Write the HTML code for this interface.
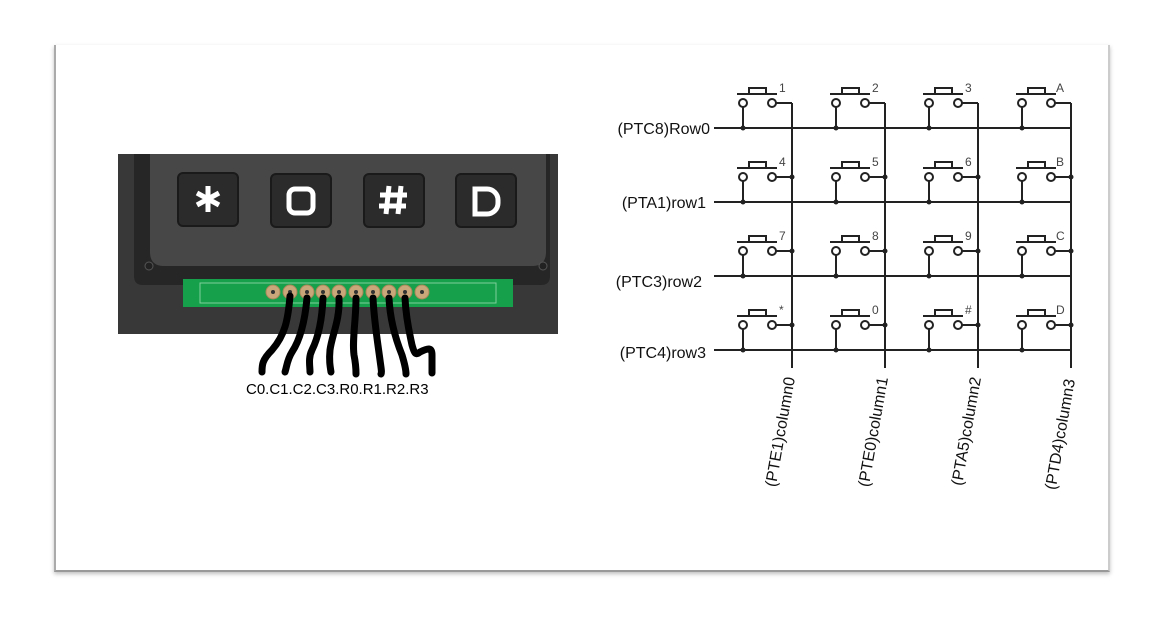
<!DOCTYPE html>
<html><head><meta charset="utf-8"><style>
html,body{margin:0;padding:0;background:#fff;}
body{width:1158px;height:620px;overflow:hidden;position:relative;font-family:"Liberation Sans",sans-serif;}
.card{position:absolute;left:54px;top:45px;width:1052px;height:525px;background:#fff;border-left:2px solid #aaa;border-bottom:2px solid #999;border-right:2px solid #ccc;box-shadow:0 2px 4px rgba(0,0,0,0.25);}
svg{position:absolute;left:0;top:0;}
</style></head><body>
<div class="card"></div>
<svg width="1158" height="620" viewBox="0 0 1158 620" xmlns="http://www.w3.org/2000/svg">
<rect x="118" y="154" width="440" height="180" fill="#383838"/>
<path d="M134 154 H550 V276 Q550 285 541 285 H143 Q134 285 134 276 Z" fill="#262626"/>
<path d="M150 154 H546 V252 Q546 266 532 266 H164 Q150 266 150 252 Z" fill="#474747"/>
<circle cx="149" cy="266" r="4" fill="#222" stroke="#555"/>
<circle cx="543" cy="266" r="4" fill="#222" stroke="#555"/>
<g fill="#2b2b2b" stroke="#1a1a1a" stroke-width="2">
<rect x="178" y="173" width="60" height="53" rx="5"/>
<rect x="271" y="174" width="60" height="53" rx="5"/>
<rect x="364" y="174" width="60" height="53" rx="5"/>
<rect x="456" y="174" width="60" height="53" rx="5"/>
</g>
<g fill="none" stroke="#fff" stroke-width="5" stroke-linecap="butt">
<path d="M208 186 V212 M197 193 L219 205 M219 193 L197 205"/>
<rect x="289" y="189" width="24" height="24" rx="6"/>
<path d="M389 186 L386 214 M401 186 L398 214 M380 195 H407 M379 206 H406"/>
<path d="M475 189 h12 a11 11 0 0 1 11 11 v3 a11 11 0 0 1 -11 11 h-12 z"/>
</g>
<rect x="183" y="279" width="330" height="28" fill="#16a04c"/>
<path d="M200 283 H496 V303 H200 Z" fill="none" stroke="#7fd19a" stroke-width="1"/>
<g fill="#c9a77a" stroke="#a88858" stroke-width="1">
<circle cx="273" cy="292" r="7"/><circle cx="290" cy="292" r="7"/><circle cx="307" cy="292" r="7"/><circle cx="323" cy="292" r="7"/><circle cx="339" cy="292" r="7"/><circle cx="356" cy="292" r="7"/><circle cx="373" cy="292" r="7"/><circle cx="389" cy="292" r="7"/><circle cx="405" cy="292" r="7"/><circle cx="422" cy="292" r="7"/>
</g>
<g fill="#333"><circle cx="273" cy="292" r="2"/><circle cx="290" cy="292" r="2"/><circle cx="307" cy="292" r="2"/><circle cx="323" cy="292" r="2"/><circle cx="339" cy="292" r="2"/><circle cx="356" cy="292" r="2"/><circle cx="373" cy="292" r="2"/><circle cx="389" cy="292" r="2"/><circle cx="405" cy="292" r="2"/><circle cx="422" cy="292" r="2"/></g>
<g fill="none" stroke="#000" stroke-width="7" stroke-linecap="round" stroke-linejoin="round">
<path d="M290 296 C288 320 285 335 272 350 C262 360 262 365 262 372"/>
<path d="M307 298 C305 320 300 340 292 352 C287 360 287 366 285 372"/>
<path d="M323 298 C322 320 318 338 312 350 C308 358 310 366 310 372"/>
<path d="M339 298 C340 320 332 335 330 350 C329 360 330 366 331 372"/>
<path d="M356 298 C356 320 352 340 354 355 C356 365 356 370 356 374"/>
<path d="M373 298 C374 320 378 345 380 360 C381 368 382 372 381 374"/>
<path d="M389 298 C390 320 396 340 402 355 C405 365 406 370 406 374"/>
<path d="M405 298 C406 320 410 335 412 345 C414 352 415 356 420 352 C428 348 432 347 432 355 L432 373"/>
</g>
<text x="246" y="394" font-size="15" fill="#000" font-family="Liberation Sans">C0.C1.C2.C3.R0.R1.R2.R3</text>
<g stroke="#222" stroke-width="2" fill="none">
<line x1="714" y1="128" x2="1071" y2="128"/>
<line x1="714" y1="202" x2="1071" y2="202"/>
<line x1="714" y1="276" x2="1071" y2="276"/>
<line x1="714" y1="350" x2="1071" y2="350"/>
<line x1="792" y1="103" x2="792" y2="368"/>
<line x1="885" y1="103" x2="885" y2="368"/>
<line x1="978" y1="103" x2="978" y2="368"/>
<line x1="1071" y1="103" x2="1071" y2="368"/>
</g>
<defs>
<g id="sw">
<line x1="-55" y1="-34" x2="-15" y2="-34" stroke="#222" stroke-width="2"/>
<rect x="-43" y="-40" width="17" height="6" fill="none" stroke="#222" stroke-width="2"/>
<circle cx="-49" cy="-25" r="4" fill="#fff" stroke="#222" stroke-width="2"/>
<circle cx="-20" cy="-25" r="4" fill="#fff" stroke="#222" stroke-width="2"/>
<line x1="-49" y1="-21" x2="-49" y2="0" stroke="#222" stroke-width="2"/>
<line x1="-16" y1="-25" x2="0" y2="-25" stroke="#222" stroke-width="2"/>
<circle cx="-49" cy="0" r="2.5" fill="#222"/>
</g>
</defs>
<g>
<use href="#sw" x="792" y="128"/><use href="#sw" x="885" y="128"/><use href="#sw" x="978" y="128"/><use href="#sw" x="1071" y="128"/>
<use href="#sw" x="792" y="202"/><use href="#sw" x="885" y="202"/><use href="#sw" x="978" y="202"/><use href="#sw" x="1071" y="202"/>
<use href="#sw" x="792" y="276"/><use href="#sw" x="885" y="276"/><use href="#sw" x="978" y="276"/><use href="#sw" x="1071" y="276"/>
<use href="#sw" x="792" y="350"/><use href="#sw" x="885" y="350"/><use href="#sw" x="978" y="350"/><use href="#sw" x="1071" y="350"/>
</g>
<g fill="#222">
<circle cx="792" cy="177" r="2.5"/><circle cx="885" cy="177" r="2.5"/><circle cx="978" cy="177" r="2.5"/><circle cx="1071" cy="177" r="2.5"/>
<circle cx="792" cy="251" r="2.5"/><circle cx="885" cy="251" r="2.5"/><circle cx="978" cy="251" r="2.5"/><circle cx="1071" cy="251" r="2.5"/>
<circle cx="792" cy="325" r="2.5"/><circle cx="885" cy="325" r="2.5"/><circle cx="978" cy="325" r="2.5"/><circle cx="1071" cy="325" r="2.5"/>
</g>
<g font-size="12" fill="#444" font-family="Liberation Sans">
<text x="779" y="92">1</text><text x="872" y="92">2</text><text x="965" y="92">3</text><text x="1056" y="92">A</text>
<text x="779" y="166">4</text><text x="872" y="166">5</text><text x="965" y="166">6</text><text x="1056" y="166">B</text>
<text x="779" y="240">7</text><text x="872" y="240">8</text><text x="965" y="240">9</text><text x="1056" y="240">C</text>
<text x="779" y="314">*</text><text x="872" y="314">0</text><text x="965" y="314">#</text><text x="1056" y="314">D</text>
</g>
<g font-size="16" fill="#111" font-family="Liberation Sans" text-anchor="end">
<text x="710" y="134">(PTC8)Row0</text>
<text x="706" y="208">(PTA1)row1</text>
<text x="702" y="287">(PTC3)row2</text>
<text x="706" y="358">(PTC4)row3</text>
</g>
<g font-size="16" fill="#111" font-family="Liberation Sans" text-anchor="end">
<text transform="translate(795,378) rotate(-80)">(PTE1)column0</text>
<text transform="translate(888,378) rotate(-80)">(PTE0)column1</text>
<text transform="translate(981,378) rotate(-80)">(PTA5)column2</text>
<text transform="translate(1075,380) rotate(-80)">(PTD4)column3</text>
</g>
</svg>
</body></html>
